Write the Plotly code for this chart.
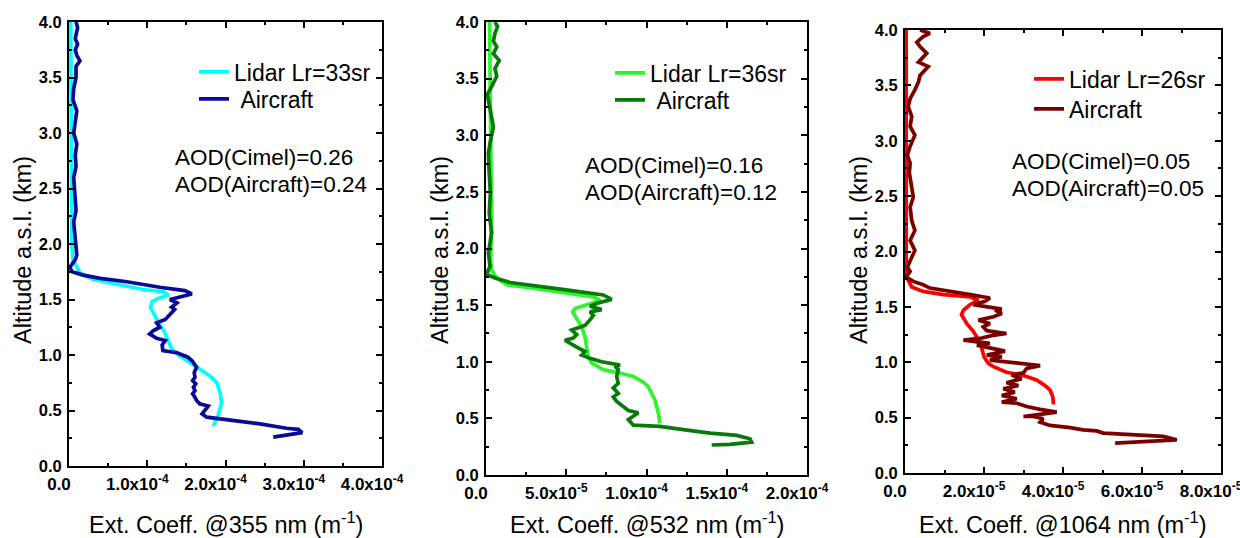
import plotly.graph_objects as go

# ---------------- data ----------------
# Extinction profiles, altitude in km a.s.l.
# 355 nm (values in units of 1e-4 m^-1)
alt_355_lidar = [0.36, 0.44, 0.57, 0.66, 0.75, 0.80, 0.86, 0.93, 1.00, 1.06, 1.13, 1.22, 1.30, 1.38,
                 1.43, 1.48, 1.51, 1.54, 1.57, 1.59, 1.65, 1.68, 1.74, 1.81, 1.86, 2.00, 2.50, 3.00,
                 3.50, 4.00]
ext_355_lidar = [1.84, 1.90, 1.95, 1.93, 1.89, 1.82, 1.70, 1.55, 1.40, 1.31, 1.27, 1.21, 1.14, 1.08,
                 1.04, 1.06, 1.14, 1.27, 1.21, 0.95, 0.52, 0.31, 0.14, 0.08, 0.05, 0.035, 0.03, 0.028,
                 0.025, 0.022]
alt_355_air = [0.26, 0.28, 0.30, 0.33, 0.34, 0.38, 0.41, 0.44, 0.47, 0.50, 0.54, 0.56, 0.59, 0.62,
               0.65, 0.68, 0.71, 0.74, 0.77, 0.80, 0.84, 0.89, 0.92, 0.95, 0.98, 1.02, 1.04, 1.09,
               1.13, 1.15, 1.19, 1.22, 1.25, 1.29, 1.32, 1.36, 1.41, 1.43, 1.47, 1.50, 1.52, 1.55,
               1.58, 1.61, 1.66, 1.69, 1.72, 1.75, 1.79, 1.86, 1.90, 2.00, 2.10, 2.20, 2.30, 2.40,
               2.50, 2.60, 2.70, 2.80, 2.90, 3.00, 3.10, 3.20, 3.30, 3.40, 3.50, 3.60, 3.65, 3.70,
               3.75, 3.80, 3.85, 3.90, 3.95, 4.00]
ext_355_air = [2.61, 2.82, 2.98, 2.93, 2.78, 2.44, 2.10, 1.76, 1.70, 1.74, 1.78, 1.67, 1.63, 1.61,
               1.58, 1.61, 1.59, 1.62, 1.58, 1.61, 1.60, 1.63, 1.60, 1.57, 1.52, 1.38, 1.20, 1.19,
               1.23, 1.12, 1.03, 1.08, 1.16, 1.12, 1.23, 1.29, 1.35, 1.31, 1.38, 1.29, 1.42, 1.57,
               1.48, 1.16, 0.74, 0.40, 0.18, 0.04, 0.01, 0.08, 0.10, 0.09, 0.07, 0.06, 0.09, 0.08,
               0.07, 0.06, 0.09, 0.08, 0.10, 0.06, 0.08, 0.10, 0.05, 0.06, 0.09, 0.09, 0.14, 0.10,
               0.08, 0.11, 0.08, 0.09, 0.11, 0.09]

# 532 nm (values in units of 1e-5 m^-1)
alt_532_lidar = [0.456, 0.545, 0.66, 0.72, 0.78, 0.82, 0.87, 0.90, 0.93, 0.99, 1.04, 1.13, 1.22, 1.31,
                 1.38, 1.44, 1.47, 1.50, 1.54, 1.57, 1.61, 1.65, 1.68, 1.74, 1.81, 1.90, 2.20, 2.60,
                 3.00, 3.40, 3.80, 4.00]
ext_532_lidar = [10.84, 10.74, 10.53, 10.32, 10.11, 9.80, 9.18, 8.35, 7.31, 6.58, 6.37, 6.27, 6.17,
                 5.96, 5.65, 5.40, 5.55, 6.27, 7.10, 6.79, 5.03, 2.95, 1.29, 0.67, 0.35, 0.29, 0.35,
                 0.33, 0.30, 0.27, 0.24, 0.22]
alt_532_air = [0.265, 0.27, 0.29, 0.32, 0.35, 0.37, 0.40, 0.43, 0.44, 0.49, 0.51, 0.55, 0.57, 0.60,
               0.65, 0.69, 0.72, 0.77, 0.81, 0.87, 0.93, 0.96, 0.97, 1.00, 1.03, 1.06, 1.09, 1.13,
               1.19, 1.21, 1.24, 1.28, 1.32, 1.37, 1.41, 1.44, 1.46, 1.49, 1.52, 1.55, 1.59, 1.63,
               1.67, 1.70, 1.74, 1.77, 1.81, 1.84, 1.96, 2.14, 2.31, 2.49, 2.67, 2.84, 2.93, 3.07,
               3.16, 3.25, 3.36, 3.43, 3.52, 3.59, 3.66, 3.72, 3.78, 3.83, 3.90, 3.96, 4.00]
ext_532_air = [14.06, 15.2, 16.55, 16.45, 15.62, 13.96, 12.29, 10.84, 9.18, 8.87, 9.08, 9.49, 8.87,
               8.56, 8.14, 7.93, 8.24, 7.93, 8.24, 8.14, 8.24, 8.04, 8.35, 7.21, 6.48, 5.96, 6.17,
               5.65, 4.92, 5.44, 5.65, 5.34, 6.17, 6.48, 6.69, 6.48, 7.21, 6.48, 7.00, 7.83, 7.31,
               5.23, 3.16, 1.50, 0.56, 0.04, 0.14, 0.25, 0.15, 0.35, 0.20, 0.27, 0.20, 0.15, 0.25,
               0.46, 0.35, 0.25, 0.08, 0.35, 0.67, 0.56, 0.83, 0.46, 0.67, 0.46, 0.56, 0.72, 0.56]

# 1064 nm (values in units of 1e-5 m^-1)
alt_1064_lidar = [0.62, 0.69, 0.75, 0.79, 0.84, 0.88, 0.91, 0.96, 0.99, 1.05, 1.13, 1.20, 1.28, 1.35,
                  1.43, 1.47, 1.52, 1.56, 1.59, 1.61, 1.64, 1.68, 1.77, 1.92, 2.50, 3.00, 3.50, 4.00]
ext_1064_lidar = [3.76, 3.74, 3.67, 3.54, 3.33, 3.00, 2.57, 2.24, 2.11, 2.00, 1.94, 1.86, 1.73, 1.56,
                  1.43, 1.48, 1.65, 1.86, 1.65, 0.97, 0.46, 0.17, 0.04, 0.03, 0.03, 0.03, 0.03, 0.03]
alt_1064_air = [0.27, 0.28, 0.30, 0.33, 0.35, 0.36, 0.38, 0.39, 0.41, 0.43, 0.46, 0.49, 0.51, 0.51,
                0.53, 0.55, 0.575, 0.60, 0.63, 0.64, 0.67, 0.70, 0.73, 0.76, 0.79, 0.815, 0.85,
                0.885, 0.905, 0.945, 0.97, 0.99, 1.005, 1.02, 1.05, 1.065, 1.10, 1.135, 1.155, 1.17,
                1.185, 1.20, 1.215, 1.24, 1.26, 1.285, 1.32, 1.35, 1.38, 1.41, 1.44, 1.47, 1.48,
                1.52, 1.55, 1.58, 1.61, 1.63, 1.67, 1.70, 1.73, 1.77, 1.82, 1.86, 1.91, 2.01, 2.10,
                2.19, 2.28, 2.40, 2.49, 2.60, 2.71, 2.80, 2.87, 2.95, 3.05, 3.13, 3.22, 3.31, 3.38,
                3.46, 3.53, 3.59, 3.67, 3.71, 3.79, 3.85, 3.89, 3.94, 3.97, 4.00]
ext_1064_air = [5.32, 5.95, 6.88, 6.54, 5.70, 5.02, 4.85, 4.51, 4.18, 3.67, 3.42, 3.50, 3.25, 3.00,
                3.42, 3.84, 3.42, 3.08, 2.83, 2.45, 2.83, 2.45, 2.78, 2.49, 2.87, 2.57, 2.95, 2.70,
                3.00, 3.08, 3.42, 2.83, 2.49, 2.15, 2.45, 2.07, 2.53, 2.07, 1.82, 2.15, 1.82, 1.48,
                1.90, 2.19, 2.57, 2.07, 1.98, 2.15, 1.86, 2.24, 2.45, 2.28, 2.45, 1.73, 2.03, 2.15,
                1.65, 1.31, 0.63, 0.46, 0.21, 0.03, 0.13, 0.06, 0.13, 0.25, 0.13, 0.25, 0.17, 0.13,
                0.21, 0.17, 0.11, 0.13, 0.06, 0.13, 0.25, 0.13, 0.17, 0.08, 0.13, 0.25, 0.34, 0.38,
                0.59, 0.34, 0.55, 0.38, 0.30, 0.46, 0.63, 0.38]

scale_355 = 1e-4
scale_532 = 1e-5
scale_1064 = 1e-5

# labels
lidar_names = ["Lidar Lr=33sr", "Lidar Lr=36sr", "Lidar Lr=26sr"]
aircraft_names = ["\u00a0Aircraft", "\u00a0Aircraft", "Aircraft"]
aod_cimel = ["0.26", "0.16", "0.05"]
aod_aircraft = ["0.24", "0.12", "0.05"]
wavelengths = ["355", "532", "1064"]

x_tickvals = [[0, 1e-4, 2e-4, 3e-4, 4e-4],
              [0, 5e-5, 1e-4, 1.5e-4, 2e-4],
              [0, 2e-5, 4e-5, 6e-5, 8e-5]]
x_ticktext = [["0.0", "1.0x10<sup>-4</sup>", "2.0x10<sup>-4</sup>", "3.0x10<sup>-4</sup>", "4.0x10<sup>-4</sup>"],
              ["0.0", "5.0x10<sup>-5</sup>", "1.0x10<sup>-4</sup>", "1.5x10<sup>-4</sup>", "2.0x10<sup>-4</sup>"],
              ["0.0", "2.0x10<sup>-5</sup>", "4.0x10<sup>-5</sup>", "6.0x10<sup>-5</sup>", "8.0x10<sup>-5</sup>"]]
x_minor_dtick = [0.5e-4, 2.5e-5, 1e-5]

for a, b in [(alt_355_lidar, ext_355_lidar), (alt_355_air, ext_355_air),
             (alt_532_lidar, ext_532_lidar), (alt_532_air, ext_532_air),
             (alt_1064_lidar, ext_1064_lidar), (alt_1064_air, ext_1064_air)]:
    assert len(a) == len(b)

# ---------------- figure ----------------
W, H = 1240, 538
FONT = "Arial, Liberation Sans, sans-serif"

panels = [
    dict(lidar=(alt_355_lidar, ext_355_lidar), air=(alt_355_air, ext_355_air), scale=scale_355,
         colors=("#00FFFF", "#0A0A96"), xdom=(69, 382), ydom=(22, 466),
         legend_x=194, legend_y=(72, 99), aod_xy=(173, 157)),
    dict(lidar=(alt_532_lidar, ext_532_lidar), air=(alt_532_air, ext_532_air), scale=scale_532,
         colors=("#2CF52C", "#077A07"), xdom=(486, 807), ydom=(22, 475),
         legend_x=610, legend_y=(73, 100), aod_xy=(583, 165)),
    dict(lidar=(alt_1064_lidar, ext_1064_lidar), air=(alt_1064_air, ext_1064_air), scale=scale_1064,
         colors=("#FF0000", "#7A0000"), xdom=(905, 1221), ydom=(30, 473),
         legend_x=1029, legend_y=(79, 109), aod_xy=(1010, 162)),
]

fig = go.Figure()
annotations = []
layout = dict(
    width=W, height=H,
    margin=dict(l=0, r=0, t=0, b=0, autoexpand=False),
    paper_bgcolor="white", plot_bgcolor="white",
    font=dict(family=FONT, color="black"),
    showlegend=True,
)

legend_count = 0
for i, p in enumerate(panels):
    n = "" if i == 0 else str(i + 1)
    alt_l, ext_l = p["lidar"]
    alt_a, ext_a = p["air"]
    s = p["scale"]
    lx = p["legend_x"]
    series = [(ext_l, alt_l, lidar_names[i], p["colors"][0], p["legend_y"][0]),
              (ext_a, alt_a, aircraft_names[i], p["colors"][1], p["legend_y"][1])]
    for ext, alt, name, color, ly in series:
        legend_count += 1
        leg = "legend" if legend_count == 1 else f"legend{legend_count}"
        fig.add_trace(go.Scatter(
            x=[v * s for v in ext], y=alt, mode="lines", name=name,
            line=dict(color=color, width=3.7), xaxis="x" + n, yaxis="y" + n, legend=leg))
        layout[leg] = dict(
            x=lx / W, y=(H - ly) / H, xanchor="left", yanchor="middle",
            bgcolor="rgba(0,0,0,0)", borderwidth=0,
            font=dict(family=FONT, size=23, color="black"),
        )

    x0, x1 = p["xdom"]
    yt, yb = p["ydom"]
    layout["xaxis" + n] = dict(
        domain=[x0 / W, x1 / W], anchor="y" + n, automargin=False,
        range=[x_tickvals[i][0], x_tickvals[i][-1]],
        tickmode="array", tickvals=x_tickvals[i], ticktext=x_ticktext[i],
        ticks="inside", ticklen=6, tickwidth=2, tickcolor="black",
        minor=dict(ticks="inside", ticklen=3, tickwidth=2, tickcolor="black",
                   tick0=0, dtick=x_minor_dtick[i]),
        showline=True, linewidth=2, linecolor="black", mirror="ticks",
        showgrid=False, zeroline=False,
        tickfont=dict(family=FONT, size=17, color="black", weight="bold"),
        ticklabelshift=-10, ticklabelstandoff=2, ticklabeloverflow="allow",
    )
    layout["yaxis" + n] = dict(
        domain=[(H - yb) / H, (H - yt) / H], anchor="x" + n, automargin=False,
        range=[0, 4], tickmode="linear", tick0=0, dtick=0.5, tickformat=".1f",
        ticks="inside", ticklen=6, tickwidth=2, tickcolor="black",
        minor=dict(ticks="inside", ticklen=3, tickwidth=2, tickcolor="black", tick0=0, dtick=0.25),
        showline=True, linewidth=2, linecolor="black", mirror="ticks",
        showgrid=False, zeroline=False,
        tickfont=dict(family=FONT, size=16.5, color="black", weight="bold"),
        ticklabelstandoff=2, ticklabeloverflow="allow",
    )

    ax, ay = p["aod_xy"]
    annotations.append(dict(
        text=f"AOD(Cimel)={aod_cimel[i]}", x=ax / W, y=(H - ay) / H, xref="paper", yref="paper",
        xanchor="left", yanchor="middle", showarrow=False,
        font=dict(family=FONT, size=22.5, color="black")))
    annotations.append(dict(
        text=f"AOD(Aircraft)={aod_aircraft[i]}", x=ax / W, y=(H - ay - 27) / H, xref="paper",
        yref="paper", xanchor="left", yanchor="middle", showarrow=False,
        font=dict(family=FONT, size=22.5, color="black")))

    # axis titles
    annotations.append(dict(
        text=f"Ext. Coeff. @{wavelengths[i]} nm (m<sup>-1</sup>)", x=(x0 + x1) / 2 / W,
        y=(H - 523) / H, xref="paper", yref="paper", xanchor="center", yanchor="middle",
        showarrow=False, font=dict(family=FONT, size=23.5, color="black")))
    annotations.append(dict(
        text="Altitude a.s.l. (km)", x=(x0 - 46) / W, y=(H - 250) / H, xref="paper",
        yref="paper", xanchor="center", yanchor="middle", textangle=-90,
        showarrow=False, font=dict(family=FONT, size=23.5, color="black")))

layout["annotations"] = annotations
fig.update_layout(**layout)
fig.write_html("out.html")
